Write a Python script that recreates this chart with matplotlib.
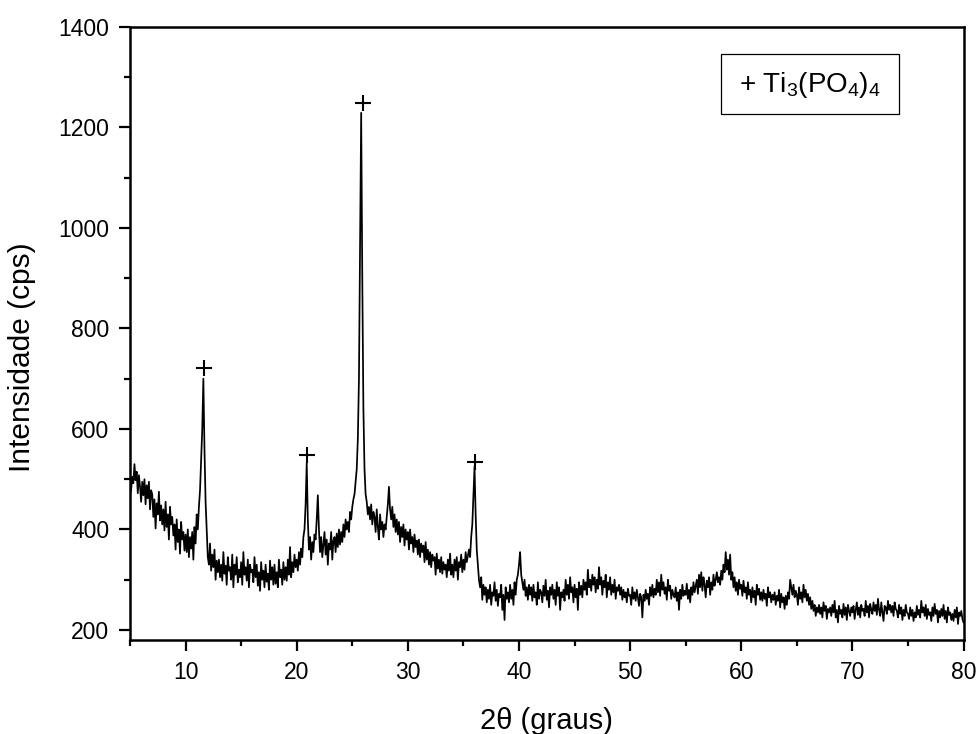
import numpy as np
import matplotlib
matplotlib.use("Agg")
import matplotlib.pyplot as plt
from matplotlib.patches import Rectangle
from matplotlib.ticker import MultipleLocator

plt.rcParams['font.family'] = ['Liberation Sans', 'DejaVu Sans']
plt.rcParams['mathtext.fontset'] = 'custom'
plt.rcParams['mathtext.rm'] = 'Liberation Sans'
plt.rcParams['mathtext.it'] = 'Liberation Sans:italic'

# 2theta scan: 5 -> 80 deg, 0.1 deg step
TWO_THETA_START = 5.0
TWO_THETA_STEP = 0.1

# intensity (cps), one row per degree
intensity = [
    470, 478, 505, 492, 530, 498, 515, 472, 508, 486,   # 5
    455, 495, 468, 500, 450, 488, 462, 495, 440, 478,   # 6
    470, 425, 460, 402, 452, 430, 475, 418, 448, 410,   # 7
    440, 398, 455, 405, 430, 380, 445, 410, 425, 388,   # 8
    410, 360, 420, 375, 400, 352, 415, 380, 395, 358,   # 9
    390, 355, 400, 345, 385, 362, 395, 340, 405, 372,   # 10
    430, 400, 445, 478, 540, 600, 700, 560, 455, 398,   # 11
    345, 330, 372, 318, 350, 325, 360, 300, 338, 315,   # 12
    340, 305, 330, 298, 355, 312, 328, 290, 345, 318,   # 13
    325, 300, 350, 285, 330, 310, 345, 295, 320, 305,   # 14
    335, 290, 355, 310, 325, 298, 340, 285, 330, 315,   # 15
    320, 295, 345, 305, 330, 288, 315, 278, 335, 300,   # 16
    318, 285, 330, 296, 312, 280, 338, 300, 325, 290,   # 17
    330, 292, 315, 285, 340, 305, 320, 290, 335, 300,   # 18
    325, 298, 340, 310, 365, 305, 335, 315, 350, 325,   # 19
    340, 318, 355, 330, 362, 345, 385, 400, 450, 532,   # 20
    420, 360, 385, 340, 375, 355, 390, 380, 420, 468,   # 21
    400, 355, 385, 345, 370, 395, 350, 380, 330, 372,   # 22
    360, 395, 340, 378, 385, 355, 392, 365, 400, 370,   # 23
    395, 375, 410, 385, 420, 400, 415, 395, 435, 420,   # 24
    445, 460, 470, 495, 520, 580, 700, 960, 1229, 900,  # 25
    640, 520, 470, 455, 430, 445, 420, 450, 410, 435,   # 26
    425, 395, 440, 405, 380, 430, 400, 415, 385, 410,   # 27
    400, 425, 450, 485, 440, 420, 445, 405, 430, 395,   # 28
    420, 390, 415, 375, 405, 385, 410, 368, 400, 380,   # 29
    395, 360, 400, 372, 385, 355, 390, 365, 378, 350,   # 30
    380, 345, 372, 355, 368, 335, 375, 340, 360, 330,   # 31
    355, 325, 350, 338, 345, 310, 352, 322, 340, 315,   # 32
    345, 312, 335, 320, 330, 305, 340, 318, 352, 310,   # 33
    330, 305, 340, 318, 345, 300, 335, 325, 350, 315,   # 34
    340, 320, 355, 335, 348, 360, 345, 385, 410, 470,   # 35
    525, 430, 360, 330, 300, 285, 305, 260, 290, 270,   # 36
    285, 255, 280, 262, 290, 250, 275, 268, 295, 258,   # 37
    280, 248, 272, 265, 290, 240, 270, 220, 285, 262,   # 38
    275, 255, 290, 262, 280, 250, 295, 270, 300, 310,   # 39
    330, 355, 310, 295, 280, 300, 268, 285, 260, 290,   # 40
    270, 285, 258, 290, 265, 275, 250, 295, 262, 280,   # 41
    275, 255, 288, 268, 300, 260, 278, 245, 285, 270,   # 42
    290, 262, 280, 250, 295, 268, 285, 240, 275, 265,   # 43
    280, 258, 300, 270, 290, 262, 305, 275, 285, 255,   # 44
    290, 265, 282, 240, 295, 270, 288, 265, 300, 280,   # 45
    295, 270, 320, 285, 300, 278, 310, 290, 305, 275,   # 46
    300, 282, 325, 290, 305, 270, 298, 285, 310, 265,   # 47
    295, 280, 305, 270, 290, 275, 300, 262, 285, 278,   # 48
    290, 270, 285, 260, 280, 265, 275, 255, 282, 268,   # 49
    270, 250, 285, 262, 275, 258, 280, 265, 248, 272,   # 50
    265, 225, 270, 258, 280, 262, 272, 250, 285, 268,   # 51
    290, 265, 282, 270, 300, 275, 295, 268, 310, 280,   # 52
    295, 272, 285, 260, 300, 278, 288, 262, 280, 270,   # 53
    265, 285, 258, 275, 240, 280, 262, 290, 268, 278,   # 54
    270, 292, 262, 280, 255, 285, 270, 295, 275, 288,   # 55
    300, 272, 310, 285, 315, 278, 305, 290, 265, 298,   # 56
    285, 305, 270, 295, 280, 310, 288, 300, 315, 295,   # 57
    305, 290, 318, 300, 330, 315, 355, 320, 340, 310,   # 58
    350, 300, 315, 285, 305, 278, 295, 270, 300, 282,   # 59
    290, 268, 298, 275, 285, 262, 295, 270, 280, 255,   # 60
    285, 265, 278, 250, 290, 270, 282, 260, 275, 258,   # 61
    280, 262, 272, 248, 285, 265, 275, 255, 270, 260,   # 62
    275, 250, 268, 258, 280, 245, 272, 255, 265, 242,   # 63
    268, 250, 275, 262, 300, 285, 270, 290, 265, 278,   # 64
    270, 250, 285, 262, 275, 255, 290, 265, 280, 258,   # 65
    272, 250, 265, 242, 258, 238, 250, 228, 245, 235,   # 66
    250, 232, 245, 225, 255, 238, 248, 222, 242, 235,   # 67
    245, 228, 250, 235, 258, 225, 240, 215, 248, 232,   # 68
    240, 225, 252, 230, 245, 220, 250, 238, 228, 245,   # 69
    235, 248, 222, 240, 255, 230, 245, 225, 250, 238,   # 70
    242, 228, 258, 235, 248, 225, 252, 240, 232, 255,   # 71
    238, 250, 230, 262, 240, 228, 255, 235, 218, 248,   # 72
    245, 232, 258, 240, 250, 235, 248, 228, 255, 242,   # 73
    238, 225, 250, 232, 245, 220, 240, 228, 250, 235,   # 74
    232, 222, 245, 228, 240, 218, 235, 225, 248, 230,   # 75
    240, 225, 258, 235, 245, 228, 250, 222, 242, 230,   # 76
    235, 218, 245, 228, 252, 232, 240, 215, 238, 225,   # 77
    242, 228, 250, 222, 238, 215, 245, 230, 235, 220,   # 78
    232, 218, 240, 225, 245, 212, 235, 228, 238, 222,   # 79
    215,                                                # 80
]

# Ti3(PO4)4 reflections marked with '+'
peak_2theta = [11.7, 20.95, 26.0, 36.0]
peak_mark_y = [721, 548, 1249, 534]

two_theta = TWO_THETA_START + TWO_THETA_STEP * np.arange(len(intensity))

fig = plt.figure(figsize=(9.79, 7.34), dpi=100)
ax = fig.add_axes([0.1328, 0.128, 0.8514, 0.8354])

ax.plot(two_theta, intensity, color='black', linewidth=1.25)
ax.plot(peak_2theta, peak_mark_y, linestyle='none', marker='+',
        markersize=11, markeredgewidth=1.5, color='black')

ax.set_xlim(5, 80)
ax.set_ylim(180, 1400)
ax.xaxis.set_major_locator(MultipleLocator(10))
ax.xaxis.set_minor_locator(MultipleLocator(5))
ax.yaxis.set_major_locator(MultipleLocator(200))
ax.yaxis.set_minor_locator(MultipleLocator(100))
ax.tick_params(which='both', direction='out', width=1.6, labelsize=16.5)
ax.tick_params(which='major', length=8, pad=7)
ax.tick_params(which='minor', length=4.5)
for s in ax.spines.values():
    s.set_linewidth(1.8)

ax.set_xlabel('2\u03b8 (graus)', fontsize=21, labelpad=17)
ax.set_ylabel('Intensidade (cps)', fontsize=21.5)
ax.yaxis.set_label_coords(-0.113, 0.462)

# legend box
ax.add_patch(Rectangle((0.709, 0.858), 0.2136, 0.098, transform=ax.transAxes,
                       fill=False, edgecolor='black', linewidth=0.9))
ax.text(0.816, 0.905, r'+ Ti$_3$(PO$_4$)$_4$', transform=ax.transAxes,
        ha='center', va='center', fontsize=20)

fig.savefig('out.png', dpi=100)
